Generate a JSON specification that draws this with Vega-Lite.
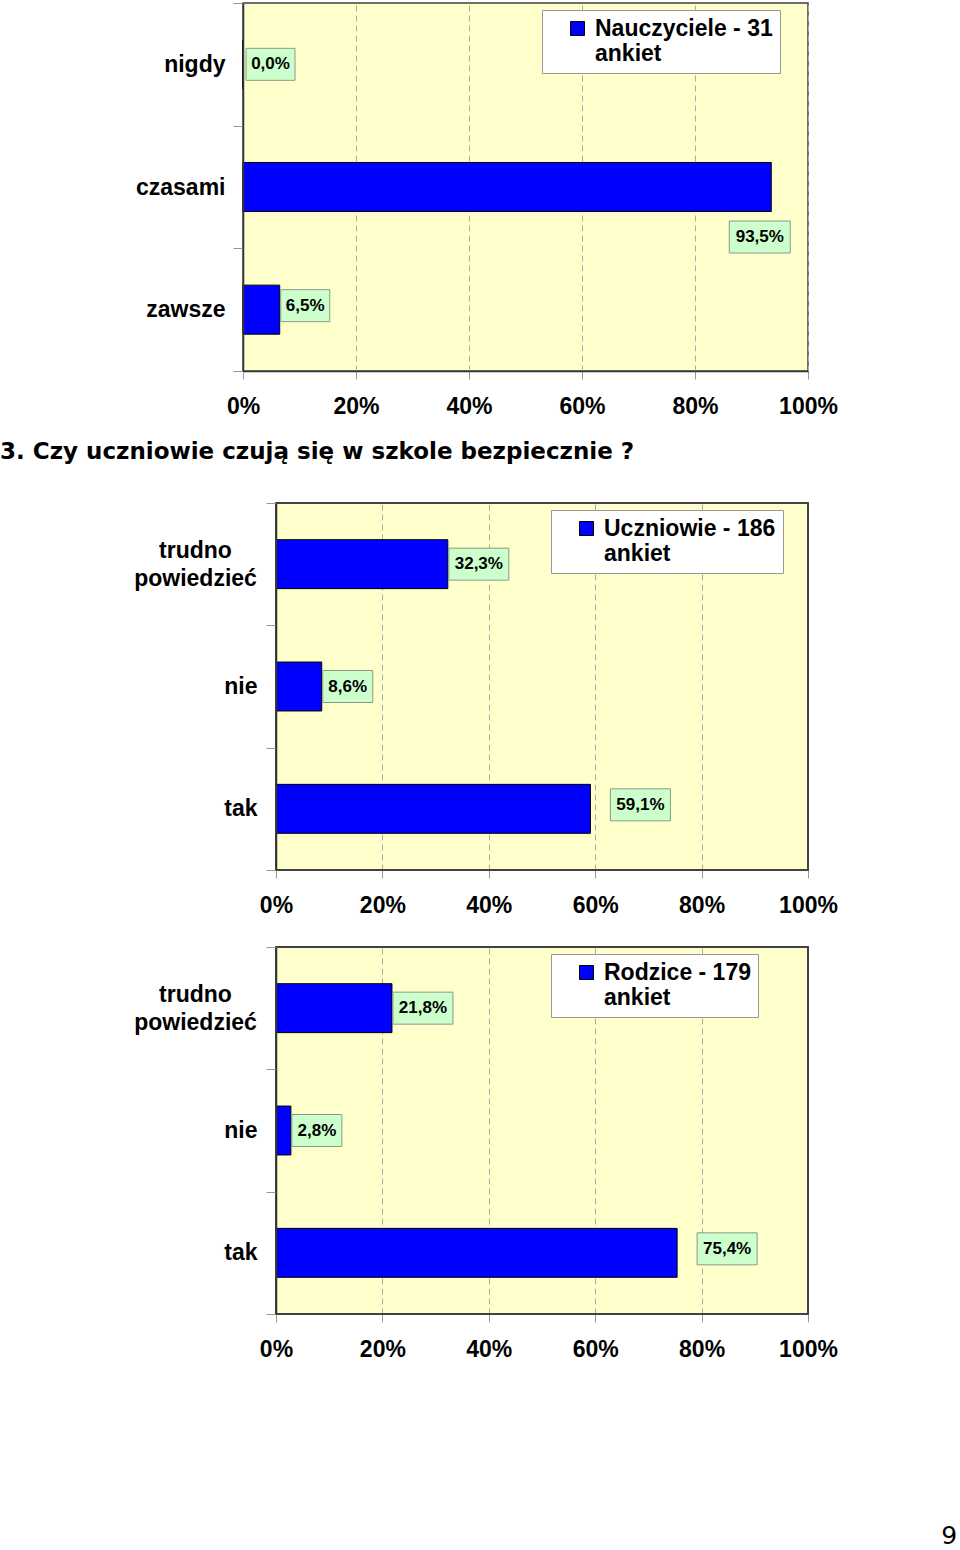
{
  "$schema": "https://vega.github.io/schema/vega-lite/v6.json",
  "padding": {"left": 0, "top": -9, "right": 0, "bottom": 0},
  "background": "white",
  "spacing": 22,
  "resolve": {"scale": {"color": "independent"}},
  "title": {"text": "9", "orient": "bottom", "anchor": "end", "font": "DejaVu Sans", "fontSize": 25, "fontWeight": "normal", "color": "#000", "offset": 163, "dx": 119},
  "config": {
    "locale": {"number": {"decimal": ",", "thousands": " ", "grouping": [3], "currency": ["", " zł"]}},
    "font": "Liberation Sans",
    "axis": {"labelFont": "Liberation Sans", "labelColor": "#000", "labelFontWeight": "bold", "labelFontSize": 23},
    "legend": {"orient": "none", "legendY": 7, "fillColor": "white", "strokeColor": "#999", "padding": 7, "labelFont": "Liberation Sans", "labelFontSize": 23, "labelFontWeight": "bold", "labelColor": "#000", "labelLimit": 400, "symbolType": "square", "symbolSize": 196, "symbolStrokeColor": "#000", "symbolStrokeWidth": 1, "symbolOffset": 17, "labelOffset": 6}
  },
  "vconcat": [
    {
      "width": 565, "height": 368,
      "view": {"fill": "#ffffcc", "stroke": "#404040", "strokeWidth": 1.5},
      "data": {"values": [
        {"cat": "nigdy", "v": 0.0, "s": "Nauczyciele - 31 ankiet"},
        {"cat": "czasami", "v": 0.935, "s": "Nauczyciele - 31 ankiet"},
        {"cat": "zawsze", "v": 0.065, "s": "Nauczyciele - 31 ankiet"}
      ]},
      "layer": [
        {
          "mark": {"type": "bar", "stroke": "#000", "strokeWidth": 1, "height": {"band": 0.4}},
          "encoding": {
            "y": {"field": "cat", "type": "nominal", "sort": ["nigdy", "czasami", "zawsze"], "scale": {"paddingInner": 0, "paddingOuter": 0},
              "axis": {"title": null, "tickBand": "extent", "tickSize": 10, "tickColor": "#999", "domainColor": "#333", "domainWidth": 1.5, "labelPadding": 8, "labelLimit": 300, "zindex": 1}},
            "x": {"field": "v", "type": "quantitative", "scale": {"domain": [0, 1], "nice": false, "zero": false},
              "axis": {"title": null, "values": [0, 0.2, 0.4, 0.6, 0.8, 1], "format": ".0%", "grid": true, "gridDash": [6, 4], "gridColor": "#aaaaaa", "ticks": true, "tickSize": 8, "tickColor": "#999", "domainColor": "#333", "domainWidth": 1.5, "labelPadding": 16, "labelFlush": false, "labelOverlap": false}},
            "color": {"field": "s", "type": "nominal", "scale": {"range": ["#0000ff"]},
              "legend": {"title": null, "legendX": 299, "labelExpr": "[replace(datum.label, ' ankiet', ''), 'ankiet']"}}
          }
        },
        {
          "mark": {"type": "bar", "fill": "#ccffcc", "stroke": "#8a9a8a", "strokeWidth": 1, "height": 32,
            "xOffset": {"expr": "datum.cat == 'czasami' ? -42 : datum.cat == 'nigdy' ? 3 : 1"},
            "x2Offset": {"expr": "(datum.cat == 'czasami' ? -42 : datum.cat == 'nigdy' ? 3 : 1) + (datum.v >= 0.1 ? 61 : 49)"},
            "yOffset": {"expr": "datum.cat == 'czasami' ? 50 : datum.cat == 'zawsze' ? -4 : 0"}},
          "encoding": {
            "y": {"field": "cat", "type": "nominal", "sort": ["nigdy", "czasami", "zawsze"]},
            "x": {"field": "v", "type": "quantitative"},
            "x2": {"field": "v"}
          }
        },
        {
          "mark": {"type": "text", "fontSize": 17, "fontWeight": "bold", "color": "#000", "align": "center", "baseline": "middle",
            "dx": {"expr": "(datum.cat == 'czasami' ? -42 : datum.cat == 'nigdy' ? 3 : 1) + (datum.v >= 0.1 ? 30.5 : 24.5)"},
            "dy": {"expr": "datum.cat == 'czasami' ? 50 : datum.cat == 'zawsze' ? -4 : 0"}},
          "encoding": {
            "y": {"field": "cat", "type": "nominal", "sort": ["nigdy", "czasami", "zawsze"]},
            "x": {"field": "v", "type": "quantitative"},
            "text": {"field": "v", "type": "quantitative", "format": ".1%"}
          }
        }
      ]
    },
    {
      "spacing": 19,
      "resolve": {"scale": {"color": "independent"}},
      "vconcat": [
        {
          "width": 565, "height": 367,
          "title": {"text": "3. Czy uczniowie czują się w szkole bezpiecznie ?", "anchor": "start", "frame": "group", "dx": -243, "offset": 28, "font": "DejaVu Sans", "fontSize": 23, "fontWeight": "bold", "color": "#000"},
          "view": {"fill": "#ffffcc", "stroke": null},
          "data": {"values": [
            {"cat": "trudno powiedzieć", "v": 0.323, "s": "Uczniowie - 186 ankiet"},
            {"cat": "nie", "v": 0.086, "s": "Uczniowie - 186 ankiet"},
            {"cat": "tak", "v": 0.591, "s": "Uczniowie - 186 ankiet"}
          ]},
          "layer": [
            {"mark": {"type": "rect", "fill": "white"}, "encoding": {"x": {"datum": -0.062}, "x2": {"datum": 0}}},
            {
              "mark": {"type": "bar", "stroke": "#000", "strokeWidth": 1, "height": {"band": 0.4}},
              "encoding": {
                "y": {"field": "cat", "type": "nominal", "sort": ["trudno powiedzieć", "nie", "tak"], "scale": {"paddingInner": 0, "paddingOuter": 0},
                  "axis": {"title": null, "offset": -33, "tickBand": "extent", "tickSize": 10, "tickColor": "#999", "domainColor": "#333", "domainWidth": 1.5, "labelLineHeight": 28, "labelLimit": 300, "zindex": 1,
                    "labelExpr": "datum.label == 'trudno powiedzieć' ? ['trudno', 'powiedzieć'] : datum.label",
                    "labelAlign": {"condition": {"test": "datum.value == 'trudno powiedzieć'", "value": "center"}, "value": "right"},
                    "labelOffset": {"condition": {"test": "datum.value == 'trudno powiedzieć'", "value": -14}, "value": 0},
                    "labelPadding": {"condition": {"test": "datum.value == 'trudno powiedzieć'", "value": 71}, "value": 9}}},
                "x": {"field": "v", "type": "quantitative", "scale": {"domain": [-0.062, 1], "nice": false, "zero": false},
                  "axis": {"title": null, "values": [0, 0.2, 0.4, 0.6, 0.8, 1], "format": ".0%", "grid": true, "gridDash": [6, 4], "gridColor": "#aaaaaa", "ticks": true, "tickSize": 8, "tickColor": "#999", "domain": false, "labelPadding": 16, "labelFlush": false, "labelOverlap": false}},
                "color": {"field": "s", "type": "nominal", "scale": {"range": ["#0000ff"]},
                  "legend": {"title": null, "legendX": 308, "labelExpr": "[replace(datum.label, ' ankiet', ''), 'ankiet']"}}
              }
            },
            {
              "mark": {"type": "bar", "fill": "#ccffcc", "stroke": "#8a9a8a", "strokeWidth": 1, "height": 32,
                "xOffset": {"expr": "datum.cat == 'tak' ? 20 : 1"},
                "x2Offset": {"expr": "(datum.cat == 'tak' ? 20 : 1) + (datum.v >= 0.1 ? 60 : 50)"},
                "yOffset": {"expr": "datum.cat == 'tak' ? -4 : 0"}},
              "encoding": {
                "y": {"field": "cat", "type": "nominal", "sort": ["trudno powiedzieć", "nie", "tak"]},
                "x": {"field": "v", "type": "quantitative"},
                "x2": {"field": "v"}
              }
            },
            {
              "mark": {"type": "text", "fontSize": 17, "fontWeight": "bold", "color": "#000", "align": "center", "baseline": "middle",
                "dx": {"expr": "(datum.cat == 'tak' ? 20 : 1) + (datum.v >= 0.1 ? 30 : 25)"},
                "dy": {"expr": "datum.cat == 'tak' ? -4 : 0"}},
              "encoding": {
                "y": {"field": "cat", "type": "nominal", "sort": ["trudno powiedzieć", "nie", "tak"]},
                "x": {"field": "v", "type": "quantitative"},
                "text": {"field": "v", "type": "quantitative", "format": ".1%"}
              }
            },
            {"mark": {"type": "rect", "fillOpacity": 0, "stroke": "#404040", "strokeWidth": 1.5}, "encoding": {"x": {"datum": 0}, "x2": {"datum": 1}}}
          ]
        },
        {
          "width": 565, "height": 367,
          "view": {"fill": "#ffffcc", "stroke": null},
          "data": {"values": [
            {"cat": "trudno powiedzieć", "v": 0.218, "s": "Rodzice - 179 ankiet"},
            {"cat": "nie", "v": 0.028, "s": "Rodzice - 179 ankiet"},
            {"cat": "tak", "v": 0.754, "s": "Rodzice - 179 ankiet"}
          ]},
          "layer": [
            {"mark": {"type": "rect", "fill": "white"}, "encoding": {"x": {"datum": -0.062}, "x2": {"datum": 0}}},
            {
              "mark": {"type": "bar", "stroke": "#000", "strokeWidth": 1, "height": {"band": 0.4}},
              "encoding": {
                "y": {"field": "cat", "type": "nominal", "sort": ["trudno powiedzieć", "nie", "tak"], "scale": {"paddingInner": 0, "paddingOuter": 0},
                  "axis": {"title": null, "offset": -33, "tickBand": "extent", "tickSize": 10, "tickColor": "#999", "domainColor": "#333", "domainWidth": 1.5, "labelLineHeight": 28, "labelLimit": 300, "zindex": 1,
                    "labelExpr": "datum.label == 'trudno powiedzieć' ? ['trudno', 'powiedzieć'] : datum.label",
                    "labelAlign": {"condition": {"test": "datum.value == 'trudno powiedzieć'", "value": "center"}, "value": "right"},
                    "labelOffset": {"condition": {"test": "datum.value == 'trudno powiedzieć'", "value": -14}, "value": 0},
                    "labelPadding": {"condition": {"test": "datum.value == 'trudno powiedzieć'", "value": 71}, "value": 9}}},
                "x": {"field": "v", "type": "quantitative", "scale": {"domain": [-0.062, 1], "nice": false, "zero": false},
                  "axis": {"title": null, "values": [0, 0.2, 0.4, 0.6, 0.8, 1], "format": ".0%", "grid": true, "gridDash": [6, 4], "gridColor": "#aaaaaa", "ticks": true, "tickSize": 8, "tickColor": "#999", "domain": false, "labelPadding": 16, "labelFlush": false, "labelOverlap": false}},
                "color": {"field": "s", "type": "nominal", "scale": {"range": ["#0000ff"]},
                  "legend": {"title": null, "legendX": 308, "labelExpr": "[replace(datum.label, ' ankiet', ''), 'ankiet']"}}
              }
            },
            {
              "mark": {"type": "bar", "fill": "#ccffcc", "stroke": "#8a9a8a", "strokeWidth": 1, "height": 32,
                "xOffset": {"expr": "datum.cat == 'tak' ? 20 : 1"},
                "x2Offset": {"expr": "(datum.cat == 'tak' ? 20 : 1) + (datum.v >= 0.1 ? 60 : 50)"},
                "yOffset": {"expr": "datum.cat == 'tak' ? -4 : 0"}},
              "encoding": {
                "y": {"field": "cat", "type": "nominal", "sort": ["trudno powiedzieć", "nie", "tak"]},
                "x": {"field": "v", "type": "quantitative"},
                "x2": {"field": "v"}
              }
            },
            {
              "mark": {"type": "text", "fontSize": 17, "fontWeight": "bold", "color": "#000", "align": "center", "baseline": "middle",
                "dx": {"expr": "(datum.cat == 'tak' ? 20 : 1) + (datum.v >= 0.1 ? 30 : 25)"},
                "dy": {"expr": "datum.cat == 'tak' ? -4 : 0"}},
              "encoding": {
                "y": {"field": "cat", "type": "nominal", "sort": ["trudno powiedzieć", "nie", "tak"]},
                "x": {"field": "v", "type": "quantitative"},
                "text": {"field": "v", "type": "quantitative", "format": ".1%"}
              }
            },
            {"mark": {"type": "rect", "fillOpacity": 0, "stroke": "#404040", "strokeWidth": 1.5}, "encoding": {"x": {"datum": 0}, "x2": {"datum": 1}}}
          ]
        }
      ]
    }
  ]
}
